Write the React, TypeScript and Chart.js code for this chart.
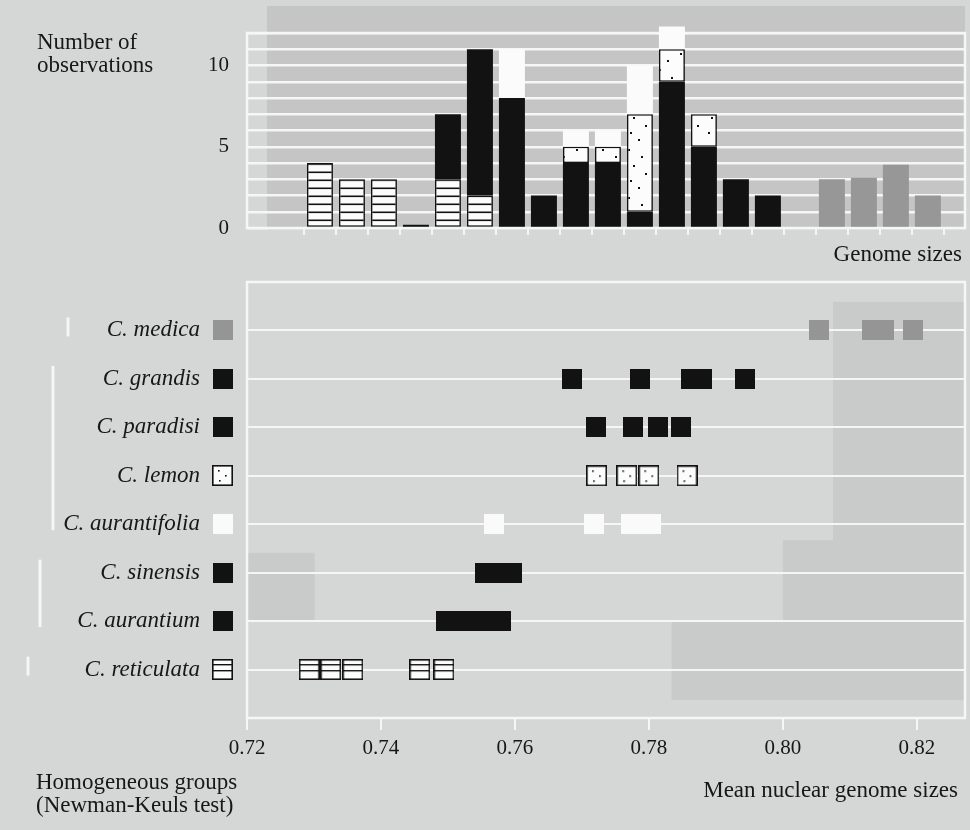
import React, { useEffect, useRef } from 'react';
import { Chart, registerables } from 'chart.js';
Chart.register(...registerables);

// ---------- Top histogram data (bins of genome size) ----------
const binIndex = [0, 1, 2, 3, 4, 5, 6, 7, 8, 9, 10, 11, 12, 13, 14, 15, 16, 17, 18, 19];
const hatchedCounts = [4, 3, 3, null, 3, 2, null, null, null, null, null, null, null, null, null, null, null, null, null, null];
const blackCounts = [null, null, null, 0.2, 4, 9, 8, 2, 4, 4, 1, 9, 5, 3, 2, null, null, null, null, null];
const dottedCounts = [null, null, null, null, null, null, null, null, 1, 1, 6, 2, 2, null, null, null, null, null, null, null];
const whiteCounts = [null, null, null, null, null, null, 3, null, 1, 1, 3, 1.4, null, null, null, null, null, null, null, null];
const grayCounts = [null, null, null, null, null, null, null, null, null, null, null, null, null, null, null, null, 3, 3.1, 3.9, 2];
const countTickLabels = [0, 5, 10];
const countMax = 12;

// ---------- Bottom chart data (mean nuclear genome sizes) ----------
const species = ['C. medica', 'C. grandis', 'C. paradisi', 'C. lemon', 'C. aurantifolia', 'C. sinensis', 'C. aurantium', 'C. reticulata'];
const medicaMeans = [0.8054, 0.8133, 0.8151, 0.8194];
const grandisMeans = [0.7685, 0.7787, 0.7863, 0.7879, 0.7943];
const paradisiMeans = [0.7721, 0.7777, 0.7814, 0.7848];
const lemonMeans = [0.7722, 0.7767, 0.78, 0.7857];
const aurantifoliaMeans = [0.7569, 0.7718, 0.7773, 0.7803];
const sinensisMeans = [0.7555, 0.7576, 0.7596];
const aurantiumMeans = [0.7497, 0.7524, 0.7552, 0.7579];
const reticulataMeans = [0.7293, 0.7325, 0.7358, 0.7458, 0.7494];
const meanTicks = [0.72, 0.74, 0.76, 0.78, 0.8, 0.82];
const meanMin = 0.72;
const meanMax = 0.8272;
// homogeneous groups (Newman-Keuls), as species index ranges
const groupFirst = [0, 1, 5, 7];
const groupLast = [0, 4, 6, 7];

const SERIF = '"Liberation Serif", "Times New Roman", serif';
const INK = '#171717';
const PAGE = '#d4d7d6';

function tile(w: number, h: number, draw: (g: CanvasRenderingContext2D) => void) {
  const c = document.createElement('canvas');
  c.width = w;
  c.height = h;
  draw(c.getContext('2d') as CanvasRenderingContext2D);
  return c;
}

const dotSpots = [[4, 5], [17, 12], [9, 21], [21, 29], [6, 36], [14, 43]];

function makeMarker(kind: string) {
  const s = kind === 'dotted' || kind === 'hatched' ? 21 : 20;
  return tile(s, s, (g) => {
    if (kind === 'gray') { g.fillStyle = '#959595'; g.fillRect(0, 0, s, s); }
    if (kind === 'black') { g.fillStyle = '#121212'; g.fillRect(0, 0, s, s); }
    if (kind === 'white') { g.fillStyle = '#fafafa'; g.fillRect(0, 0, s, s); }
    if (kind === 'dotted' || kind === 'hatched') {
      g.fillStyle = '#fcfcfc';
      g.fillRect(0, 0, s, s);
      g.strokeStyle = '#111';
      g.lineWidth = 1.6;
      g.strokeRect(0.8, 0.8, s - 1.6, s - 1.6);
      g.fillStyle = '#111';
      if (kind === 'dotted') {
        g.fillRect(6, 5, 1.6, 1.6);
        g.fillRect(13, 10, 1.6, 1.6);
        g.fillRect(7, 15, 1.6, 1.6);
      } else {
        g.fillRect(0, 5, s, 1.4);
        g.fillRect(0, 11, s, 1.4);
      }
    }
  });
}

function pts(vals: (number | null)[]) {
  const out: { x: number; y: number }[] = [];
  vals.forEach((v, i) => { if (v !== null) out.push({ x: binIndex[i], y: v }); });
  return out;
}

export default function App() {
  const topRef = useRef<HTMLCanvasElement>(null);
  const botRef = useRef<HTMLCanvasElement>(null);

  useEffect(() => {
    const tctx = topRef.current!.getContext('2d')!;
    const hatch = tctx.createPattern(tile(8, 8, (g) => {
      g.fillStyle = '#fcfcfc'; g.fillRect(0, 0, 8, 8);
      g.fillStyle = '#111'; g.fillRect(0, 3.5, 8, 1.6);
    }), 'repeat');
    const dots = tctx.createPattern(tile(26, 48, (g) => {
      g.fillStyle = '#fcfcfc'; g.fillRect(0, 0, 26, 48);
      g.fillStyle = '#111';
      dotSpots.forEach(([x, y]) => g.fillRect(x, y, 2, 2));
    }), 'repeat');

    const edges = binIndex.map((b) => ({ value: b - 0.5 })).concat([{ value: 19.5 }]);
    const countTicks = Array.from({ length: countMax + 1 }, (_, k) => ({ value: k }));

    const topBg = {
      id: 'topBg',
      beforeDraw(chart: any) {
        const { ctx, chartArea: a } = chart;
        ctx.save();
        ctx.fillStyle = '#c4c5c4';
        ctx.fillRect(a.left + 20, 6, a.right - a.left - 20, a.bottom - 4);
        ctx.restore();
      },
      beforeDatasetsDraw(chart: any) {
        const { ctx, chartArea: a } = chart;
        ctx.save();
        ctx.strokeStyle = '#f6f6f6';
        ctx.lineWidth = 2.5;
        ctx.strokeRect(a.left, a.top, a.right - a.left, a.bottom - a.top);
        ctx.restore();
      },
    };

    const top = new Chart(topRef.current!, {
      type: 'bar',
      data: {
        datasets: [
          { label: 'hatched', data: pts(hatchedCounts), backgroundColor: hatch, borderColor: '#111', borderWidth: 1.6, borderSkipped: false, stack: 's' },
          { label: 'black', data: pts(blackCounts), backgroundColor: '#121212', stack: 's' },
          { label: 'dotted', data: pts(dottedCounts), backgroundColor: dots, borderColor: '#111', borderWidth: 1.6, borderSkipped: false, stack: 's' },
          { label: 'white', data: pts(whiteCounts), backgroundColor: '#fbfbfb', stack: 's', clip: false },
          { label: 'gray', data: pts(grayCounts), backgroundColor: '#979797', stack: 's' },
        ] as any,
      },
      options: {
        animation: false,
        responsive: false,
        layout: { autoPadding: false, padding: { top: 33, right: 5, left: 0, bottom: 0 } },
        plugins: { legend: { display: false }, tooltip: { enabled: false } },
        datasets: { bar: { barPercentage: 0.8125, categoryPercentage: 1 } },
        scales: {
          x: {
            type: 'linear', min: -2.28, max: 20.16, offset: false,
            afterBuildTicks: (s: any) => { s.ticks = edges; },
            ticks: { display: false, autoSkip: false },
            grid: { offset: false, drawOnChartArea: false, drawTicks: true, tickLength: 7, color: 'rgba(250,250,250,0.85)', lineWidth: 2 },
            border: { display: false },
            afterFit: (s: any) => { s.height = 32; s.paddingLeft = 0; s.paddingRight = 0; },
          },
          y: {
            stacked: true, min: 0, max: countMax,
            afterBuildTicks: (s: any) => { s.ticks = countTicks; },
            ticks: {
              autoSkip: false,
              callback: (v: any) => (countTickLabels.includes(v) ? String(v) : ''),
              font: { family: SERIF, size: 21 }, color: INK, padding: 18,
            },
            grid: { color: '#f6f6f6', lineWidth: 2.5, drawTicks: false },
            border: { display: false },
            afterFit: (s: any) => { s.width = 247; s.paddingTop = 0; s.paddingBottom = 0; },
          },
        },
      } as any,
      plugins: [topBg],
    });

    const markers: Record<string, HTMLCanvasElement> = {
      gray: makeMarker('gray'), black: makeMarker('black'), dotted: makeMarker('dotted'),
      white: makeMarker('white'), hatched: makeMarker('hatched'),
    };
    const speciesMeans = [medicaMeans, grandisMeans, paradisiMeans, lemonMeans, aurantifoliaMeans, sinensisMeans, aurantiumMeans, reticulataMeans];
    const speciesKind = ['gray', 'black', 'black', 'dotted', 'white', 'black', 'black', 'hatched'];
    const rowValue = (i: number) => species.length - i;

    const botDeco = {
      id: 'botDeco',
      beforeDraw(chart: any) {
        const { ctx, scales } = chart;
        const xs = scales.x, ys = scales.y;
        ctx.save();
        ctx.fillStyle = '#c9cbca';
        const rects = [
          [0.8075, meanMax, 8.59, 0.37],
          [0.80, 0.8075, 3.67, 0.37],
          [0.7834, 0.80, 1.98, 0.37],
          [meanMin, 0.7301, 3.41, 2.02],
        ];
        rects.forEach(([x0, x1, y0, y1]) => {
          const px0 = xs.getPixelForValue(x0), px1 = xs.getPixelForValue(x1);
          const py0 = ys.getPixelForValue(y0), py1 = ys.getPixelForValue(y1);
          ctx.fillRect(px0, py0, px1 - px0, py1 - py0);
        });
        ctx.restore();
      },
      beforeDatasetsDraw(chart: any) {
        const { ctx, chartArea: a } = chart;
        ctx.save();
        ctx.strokeStyle = '#f6f6f6';
        ctx.lineWidth = 2.5;
        ctx.strokeRect(a.left, a.top, a.right - a.left, a.bottom - a.top);
        ctx.restore();
      },
      afterDraw(chart: any) {
        const { ctx, chartArea: a, scales } = chart;
        const ys = scales.y;
        ctx.save();
        species.forEach((_, i) => {
          const m = markers[speciesKind[i]];
          const y = ys.getPixelForValue(rowValue(i));
          ctx.drawImage(m, Math.round(a.left - 24.5 - m.width / 2), Math.round(y - m.height / 2));
        });
        const lineX = [68, 53, 40, 28];
        ctx.strokeStyle = 'rgba(250,250,250,0.9)';
        ctx.lineWidth = 3;
        groupFirst.forEach((f, g) => {
          const y0 = ys.getPixelForValue(rowValue(f)) - 13;
          const y1 = ys.getPixelForValue(rowValue(groupLast[g])) + 6;
          ctx.beginPath();
          ctx.moveTo(lineX[g], y0);
          ctx.lineTo(lineX[g], y1);
          ctx.stroke();
        });
        ctx.restore();
      },
    };

    const bot = new Chart(botRef.current!, {
      type: 'scatter',
      data: {
        datasets: species.map((name, i) => ({
          label: name,
          data: speciesMeans[i].map((m) => ({ x: m, y: rowValue(i) })),
          pointStyle: markers[speciesKind[i]],
          pointRadius: 10,
          pointHoverRadius: 10,
        })),
      },
      options: {
        animation: false,
        responsive: false,
        layout: { autoPadding: false, padding: { top: 22, right: 5, left: 0, bottom: 0 } },
        plugins: { legend: { display: false }, tooltip: { enabled: false } },
        scales: {
          x: {
            type: 'linear', min: meanMin, max: meanMax,
            afterBuildTicks: (s: any) => { s.ticks = meanTicks.map((v) => ({ value: v })); },
            ticks: { autoSkip: false, callback: (v: any) => Number(v).toFixed(2), font: { family: SERIF, size: 21 }, color: INK, padding: 6, maxRotation: 0 },
            grid: { drawOnChartArea: false, drawTicks: true, tickLength: 12, color: 'rgba(250,250,250,0.9)', lineWidth: 2 },
            border: { display: false },
            afterFit: (s: any) => { s.height = 112; s.paddingLeft = 0; s.paddingRight = 0; },
          },
          y: {
            type: 'linear', min: 0, max: species.length + 1,
            afterBuildTicks: (s: any) => { s.ticks = Array.from({ length: species.length + 2 }, (_, k) => ({ value: k })); },
            ticks: {
              autoSkip: false,
              callback: (v: any) => (v >= 1 && v <= species.length ? species[species.length - v] : ''),
              font: { family: SERIF, size: 23, style: 'italic' }, color: INK, padding: 47,
            },
            grid: { color: 'rgba(250,250,250,0.9)', lineWidth: 2, drawTicks: false },
            border: { display: false },
            afterFit: (s: any) => { s.width = 247; s.paddingTop = 0; s.paddingBottom = 0; },
          },
        },
      } as any,
      plugins: [botDeco],
    });

    return () => { top.destroy(); bot.destroy(); };
  }, []);

  const txt: React.CSSProperties = { position: 'absolute', fontFamily: SERIF, fontSize: 23, lineHeight: '23px', color: INK, whiteSpace: 'nowrap' };

  return (
    <div style={{ position: 'absolute', left: 0, top: 0, width: 970, height: 830, background: PAGE, overflow: 'hidden' }}>
      <canvas ref={topRef} width={970} height={260} style={{ position: 'absolute', left: 0, top: 0, width: 970, height: 260 }} />
      <canvas ref={botRef} width={970} height={570} style={{ position: 'absolute', left: 0, top: 260, width: 970, height: 570 }} />
      <div style={{ ...txt, left: 37, top: 30 }}>Number of<br />observations</div>
      <div style={{ ...txt, right: 8, top: 242 }}>Genome sizes</div>
      <div style={{ ...txt, left: 36, top: 770 }}>Homogeneous groups<br />(Newman-Keuls test)</div>
      <div style={{ ...txt, right: 12, top: 778 }}>Mean nuclear genome sizes</div>
    </div>
  );
}
